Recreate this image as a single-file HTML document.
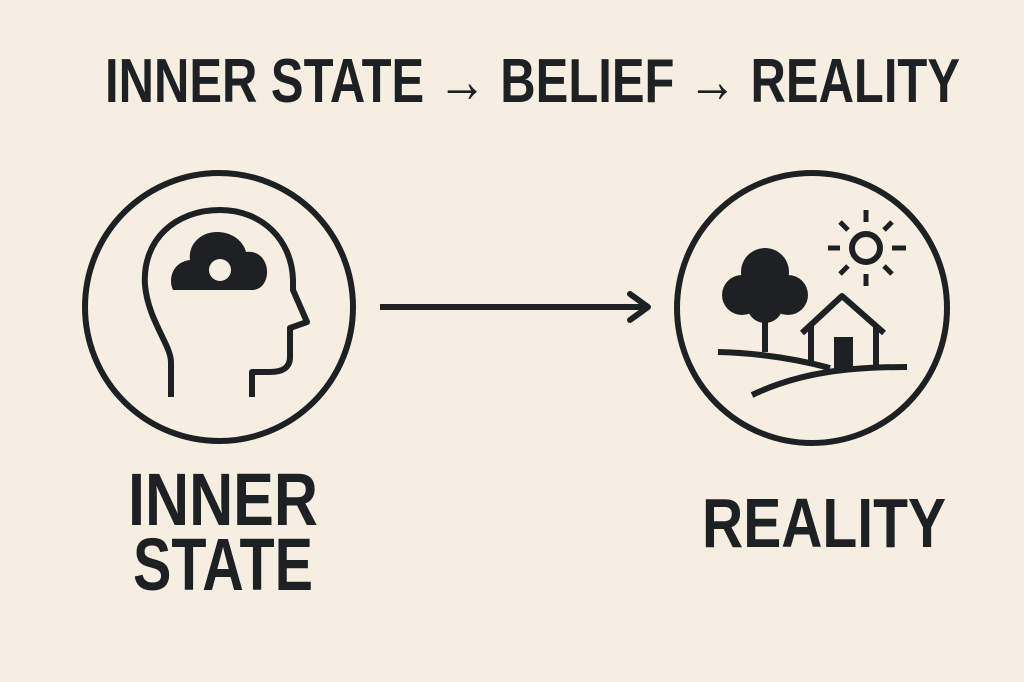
<!DOCTYPE html>
<html><head><meta charset="utf-8"><style>html,body{margin:0;padding:0;background:#f6efe1;}svg{display:block}</style></head>
<body>
<svg width="1024" height="682" viewBox="0 0 1024 682" xmlns="http://www.w3.org/2000/svg">
<rect width="1024" height="682" fill="#f6efe1"/>
<g font-family="Liberation Sans, sans-serif" font-weight="bold" fill="#1e2124">
<text x="105" y="102" font-size="62" textLength="855" lengthAdjust="spacingAndGlyphs">INNER STATE → BELIEF → REALITY</text>
<text x="128" y="525" font-size="74" textLength="190" lengthAdjust="spacingAndGlyphs">INNER</text>
<text x="133" y="590" font-size="74" textLength="180" lengthAdjust="spacingAndGlyphs">STATE</text>
<text x="702" y="547" font-size="70" textLength="244" lengthAdjust="spacingAndGlyphs">REALITY</text>
</g>
<g stroke="#1e2124" stroke-width="6" fill="none" stroke-linejoin="round">
<circle cx="219" cy="307" r="134"/>
<circle cx="812" cy="308" r="135"/>
<path d="M171,397 V362 C171,345 148,320 145,285 C142,240 175,210 220,210 C262,210 292,240 293,280 L293,290 L307,322 L290,328 V357 C290,368 282,372 270,372 L252,372 V397"/>
<line x1="380" y1="307" x2="648" y2="307"/>
<path d="M630,294 L648,307 L630,320" stroke-linecap="round"/>
<circle cx="866" cy="248" r="14"/>
<g stroke-width="5">
<line x1="866" y1="210" x2="866" y2="222"/><line x1="866" y1="274" x2="866" y2="286"/>
<line x1="828" y1="248" x2="840" y2="248"/><line x1="892" y1="248" x2="906" y2="248"/>
<line x1="840" y1="222" x2="848" y2="230"/><line x1="884" y1="266" x2="892" y2="274"/>
<line x1="892" y1="222" x2="884" y2="230"/><line x1="840" y1="274" x2="848" y2="266"/>
</g>
<path d="M718,352 C760,353 800,360 830,368"/>
<path d="M752,395 C800,372 850,367 907,367"/>
<line x1="765" y1="300" x2="765" y2="352"/>
<path d="M802,333 L842,296 L884,333"/>
<path d="M811,326 V364 M876,326 V366"/>
</g>
<g fill="#1e2124">
<path d="M173,290 C168,280 172,262 190,260 C188,245 200,232 217,232 C234,232 244,243 246,252 C260,250 268,262 267,274 C266,284 260,290 252,290 Z"/>
<circle cx="220" cy="270" r="11" fill="#f6efe1"/>
<circle cx="765" cy="272" r="24"/>
<circle cx="742" cy="295" r="20"/>
<circle cx="788" cy="295" r="20"/>
<circle cx="765" cy="305" r="18"/>
<rect x="834" y="337" width="19" height="31"/>
</g>
</svg>
</body></html>
